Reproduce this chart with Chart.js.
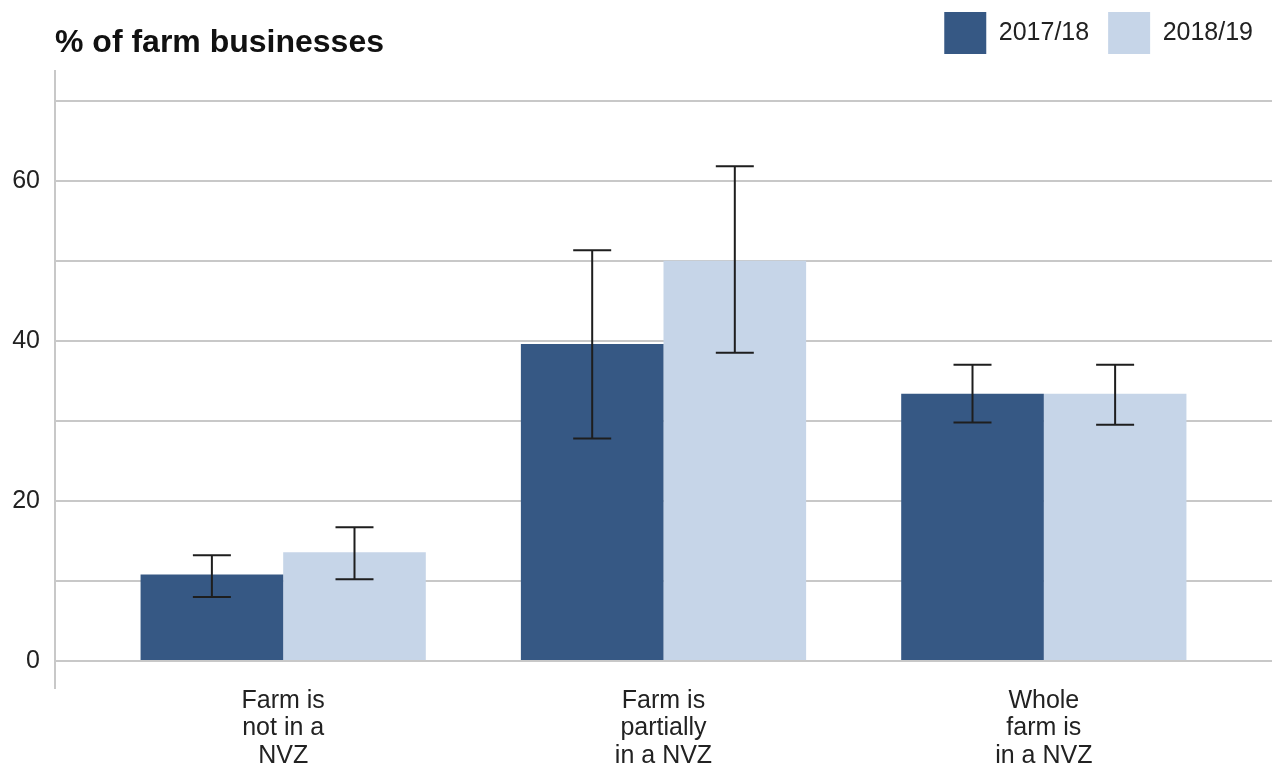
<!DOCTYPE html>
<html>
<head>
<meta charset="UTF-8">
<title>% of farm businesses</title>
<script src="https://cdn.jsdelivr.net/npm/chart.js"></script>
<style>
body { margin: 0; background: #fff; }
#wrap { position: relative; width: 1276px; height: 763px; }
</style>
</head>
<body>
<div id="wrap"><canvas id="chart"></canvas></div>
<script>
// Data
const categories = [
    ['Farm is', 'not in a', 'NVZ'],
    ['Farm is', 'partially', 'in a NVZ'],
    ['Whole', 'farm is', 'in a NVZ']
];
const seriesNames = ['2017/18', '2018/19'];
const values1718  = [10.8, 39.6, 33.4];
const values1819  = [13.6, 50.0, 33.4];
const low1718     = [8.0, 27.8, 29.8];
const high1718    = [13.2, 51.3, 37.0];
const low1819     = [10.2, 38.5, 29.5];
const high1819    = [16.7, 61.8, 37.0];
const yTicks      = [0, 10, 20, 30, 40, 50, 60, 70];
const yLabelTicks = [0, 20, 40, 60];

const FONT   = 'Liberation Sans, Arial, sans-serif';
const DARK   = '#365884';
const LIGHT  = '#c6d5e8';
const errors = [[low1718, high1718], [low1819, high1819]];

// Error bars drawn from the y scale
const errorBars = {
    id: 'errorBars',
    afterDatasetsDraw(chart) {
        const ctx = chart.ctx;
        const y   = chart.scales.y;
        ctx.save();
        ctx.strokeStyle = '#1e1e1e';
        ctx.lineWidth   = 2;
        chart.data.datasets.forEach((ds, i) => {
            const meta = chart.getDatasetMeta(i);
            meta.data.forEach((bar, j) => {
                const lo  = y.getPixelForValue(errors[i][0][j]);
                const hi  = y.getPixelForValue(errors[i][1][j]);
                const cap = 19;
                ctx.beginPath();
                ctx.moveTo(bar.x, lo);
                ctx.lineTo(bar.x, hi);
                ctx.moveTo(bar.x - cap, lo);
                ctx.lineTo(bar.x + cap, lo);
                ctx.moveTo(bar.x - cap, hi);
                ctx.lineTo(bar.x + cap, hi);
                ctx.stroke();
            });
        });
        ctx.restore();
    }
};

// Title sits on the same row as the legend; legend gets a little extra room below
const sideTitle = {
    id: 'sideTitle',
    beforeLayout(chart) {
        const legend = chart.legend;
        if (legend && !legend._padded)
        {
            const fit      = legend.fit;
            legend.fit     = function () { fit.call(this); this.height += 7; };
            legend._padded = true;
        }
    },
    afterDraw(chart) {
        const ctx = chart.ctx;
        ctx.save();
        ctx.font         = 'bold 32px ' + FONT;
        ctx.fillStyle    = '#111';
        ctx.textAlign    = 'left';
        ctx.textBaseline = 'alphabetic';
        ctx.fillText('% of farm businesses', chart.chartArea.left, 52);
        ctx.restore();
    }
};

new Chart(document.getElementById('chart'), {
    type: 'bar',
    data: {
        labels: categories.map((c, i) => i),
        datasets: [
            {label: seriesNames[0], data: values1718, backgroundColor: DARK, borderWidth: 0},
            {label: seriesNames[1], data: values1819, backgroundColor: LIGHT, borderWidth: 0}
        ]
    },
    options: {
        responsive: true,
        maintainAspectRatio: false,
        animation: false,
        categoryPercentage: 0.75,
        barPercentage: 1,
        layout: {padding: {top: -7, right: 4, left: 0, bottom: 0}},
        plugins: {
            legend: {
                position: 'top',
                align: 'end',
                labels: {
                    boxWidth: 42,
                    boxHeight: 42,
                    padding: 19,
                    color: '#222',
                    font: {family: FONT, size: 25}
                }
            },
            tooltip: {enabled: false}
        },
        scales: {
            x: {
                type: 'linear',
                offset: false,
                min: -0.6,
                max: 2.6,
                afterBuildTicks: (scale) => { scale.ticks = categories.map((c, i) => ({value: i})); },
                afterFit: (scale) => { scale.height = 75; },
                grid: {display: false},
                border: {display: false},
                ticks: {
                    autoSkip: false,
                    maxRotation: 0,
                    padding: -9,
                    color: '#222',
                    font: {family: FONT, size: 25, lineHeight: 1.1},
                    callback: (v) => categories[v]
                }
            },
            y: {
                min: -3.37,
                max: 73.7,
                afterBuildTicks: (scale) => { scale.ticks = yTicks.map((v) => ({value: v})); },
                afterFit: (scale) => { scale.width = 55; },
                grid: {color: '#c8c8c8', lineWidth: 2, drawTicks: false},
                border: {display: true, color: '#c8c8c8', width: 2},
                ticks: {
                    padding: 15,
                    color: '#222',
                    font: {family: FONT, size: 25},
                    callback: (v) => (yLabelTicks.includes(v) ? v : '')
                }
            }
        }
    },
    plugins: [errorBars, sideTitle]
});
</script>
</body>
</html>
